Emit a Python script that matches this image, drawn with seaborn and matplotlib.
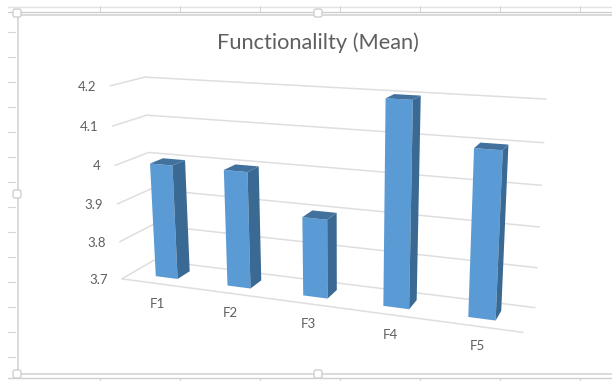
import numpy as np
import pandas as pd
import matplotlib
matplotlib.use("Agg")
import matplotlib.pyplot as plt
import matplotlib.transforms as mtransforms
from matplotlib.patches import FancyBboxPatch
import seaborn as sns

# ---- data ----
title = "Functionalilty (Mean)"
categories = ["F1", "F2", "F3", "F4", "F5"]
means = [4.0, 4.0, 3.9, 4.2, 4.1]
y_ticks = [3.7, 3.8, 3.9, 4.0, 4.1, 4.2]
y_tick_labels = ["3.7", "3.8", "3.9", "4", "4.1", "4.2"]

# ---- style ----
FRONT, SIDE, TOPC = "#5B9BD5", "#3A6A94", "#41719C"
GRID, TXT, FRAME = "#DEDEDE", "#5F5F5F", "#DADADA"
BAR_W, D0, D1 = 0.31, 0.30, 0.70
W, H = 612, 381

sns.set_theme(style="white")
plt.rcParams["font.family"] = ["Lato", "DejaVu Sans"]

# 3D -> picture projection fitted to the corners of the chart box
cube = [(0,0,0),(1,0,0),(0,1,0),(1,1,0),(0,0,1),(0,1,1),(1,1,1)]
pix = [(122,279),(523,332),(154,260),(535,308),(110,86),(145,77),(546,99)]
rows = []
for (X,Y,Z),(px,py) in zip(cube,pix):
    rows.append([X,Y,Z,1,0,0,0,0,-px*X,-px*Y,-px*Z,-px])
    rows.append([0,0,0,0,X,Y,Z,1,-py*X,-py*Y,-py*Z,-py])
P = np.linalg.svd(np.array(rows,float))[2][-1].reshape(3,4)

def project(u, v, val):
    u, v, val = np.broadcast_arrays(np.asarray(u,float), np.asarray(v,float), np.asarray(val,float))
    w = (val - y_ticks[0]) / (y_ticks[-1] - y_ticks[0])
    q = P @ np.vstack([u.ravel(), v.ravel(), w.ravel(), np.ones(u.size)])
    return q[0]/q[2], q[1]/q[2]

def cat_u(i):
    return (np.asarray(i,float) + 0.5) / len(categories)

class FrontFace(mtransforms.Transform):
    input_dims = output_dims = 2
    is_affine = False
    def transform_non_affine(self, xy):
        xy = np.asarray(xy, float)
        return np.column_stack(project(cat_u(xy[:,0]), D0, xy[:,1]))

fig = plt.figure(figsize=(W/100, H/100), dpi=100, facecolor="white")
ax = fig.add_axes([0, 0, 1, 1])

# gridlines on the walls and floor
seg = []
for k, t in enumerate(y_ticks):
    for name, us, vs in (("wall", [0,1], [1,1]), ("side", [0,0], [0,1])):
        xs, ys = project(us, vs, t)
        seg += [{"g": f"{name}{k}", "x": a, "y": b, "o": n} for n,(a,b) in enumerate(zip(xs,ys))]
xs, ys = project([0,1], [0,0], y_ticks[0])
seg += [{"g": "front", "x": a, "y": b, "o": n} for n,(a,b) in enumerate(zip(xs,ys))]
sns.lineplot(data=pd.DataFrame(seg), x="x", y="y", units="g", estimator=None, sort=False,
             color=GRID, lw=1.1, ax=ax, legend=False, zorder=1)

# bars
n_before = len(ax.patches)
sns.barplot(x=list(range(len(means))), y=means, native_scale=True, width=BAR_W,
            color=FRONT, saturation=1, ax=ax, zorder=3, linewidth=0)
base = y_ticks[0]
bar_tr = FrontFace() + ax.transData
for p in list(ax.patches)[n_before:]:
    x0, x1, top = p.get_x(), p.get_x() + p.get_width(), p.get_height()
    p.set_y(base); p.set_height(top - base)
    p.set_facecolor(FRONT); p.set_transform(bar_tr); p.set_clip_on(False)
    u0, u1 = cat_u(x0), cat_u(x1)
    sx, sy = project([u1,u1,u1,u1], [D0,D1,D1,D0], [base,base,top,top])
    ax.fill(sx, sy, color=SIDE, lw=0, zorder=3, clip_on=False)
    tx, ty = project([u0,u1,u1,u0], [D0,D0,D1,D1], top)
    ax.fill(tx, ty, color=TOPC, lw=0, zorder=3, clip_on=False)

# labels
for t, lab in zip(y_ticks, y_tick_labels):
    x, y = project(0, 0, t)
    ax.text(x[0]-14, y[0]+1, lab, ha="right", va="center", fontsize=9.5, color=TXT)
for i, lab in enumerate(categories):
    x, y = project(cat_u(i), 0, base)
    ax.text(x[0], y[0]+20, lab, ha="center", va="center", fontsize=9.5, color=TXT)
ax.text(318, 43, title, ha="center", va="center", fontsize=15.7, color=TXT)

# surrounding selection frame and ruler ticks of the screenshot
for y, c, lw in ((7, "#E3E3E3", 1), (11.5, "#CFCFCF", 1), (15, FRAME, 1.4), (374, FRAME, 1.4), (378, "#CFCFCF", 1)):
    ax.plot([17 if y in (15, 374) else 8, W], [y, y], color=c, lw=lw, zorder=2)
ax.plot([18, 18], [15, 374], color=FRAME, lw=1.4, zorder=2)
for x in range(100, W, 80):
    ax.plot([x, x], [6, 11], color="#D5D5D5", lw=0.8)
    ax.plot([x, x], [378, H], color="#D5D5D5", lw=0.8)
for y in range(32, 370, 25):
    ax.plot([8, 15], [y, y], color="#D5D5D5", lw=0.8)
for hx, hy in ((17,13),(17,194),(17,374),(318,13),(318,374)):
    ax.add_patch(FancyBboxPatch((hx-3, hy-3), 6, 6, boxstyle="round,pad=1,rounding_size=2",
                                fc="white", ec="#CFCFCF", lw=1, zorder=4))

ax.set_xlim(0, W); ax.set_ylim(H, 0)
ax.set_axis_off()
fig.savefig("out.png", dpi=100)
